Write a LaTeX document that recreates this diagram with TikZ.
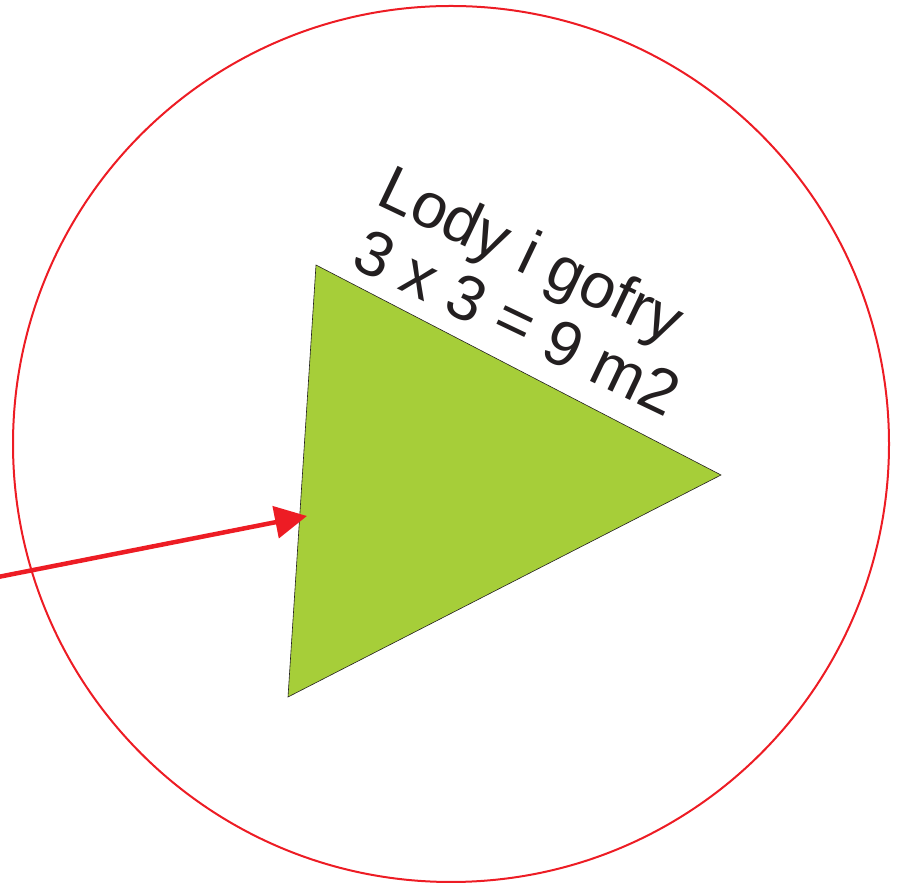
\documentclass[tikz,border=0pt]{standalone}
\usepackage{fontspec}
\setmainfont{Liberation Sans}
\usetikzlibrary{arrows.meta}
\definecolor{ringred}{HTML}{ED1C24}
\definecolor{boothgreen}{HTML}{A6CE39}
\definecolor{inkblack}{HTML}{231F20}
\tikzset{
  ring/.style={draw=ringred, line width=2pt},
  booth/.style={fill=boothgreen, draw=inkblack, line width=0.6pt, line join=miter},
  pointer/.style={draw=ringred, line width=4.5pt, -{Triangle[length=32pt 0 0, width=32pt 0 0]}},
  label/.style={inner sep=0pt, anchor=base west, rotate=-25.5, text=inkblack, font=\fontsize{63.5}{63.5}\selectfont}
}
\begin{document}
\begin{tikzpicture}[x=1pt,y=1pt]
\useasboundingbox (0,0) rectangle (899,885);
\node[ring, circle, minimum size=876pt, inner sep=0pt] (c) at (451,441) {};
\coordinate (t1) at (316,620);
\coordinate (t2) at (721,410);
\coordinate (t3) at (288,188);
\path[booth] (t1) -- (t2) -- (t3) -- cycle;
\coordinate (src) at (-2,308);
\coordinate (tip) at (307,369);
\draw[pointer] (src) -- (tip);
\node[label] (l1) at (374,682) {Lody i gofry};
\node[label] (l2) at (349,619) {3 x 3 = 9 m2};
\end{tikzpicture}
\end{document}
